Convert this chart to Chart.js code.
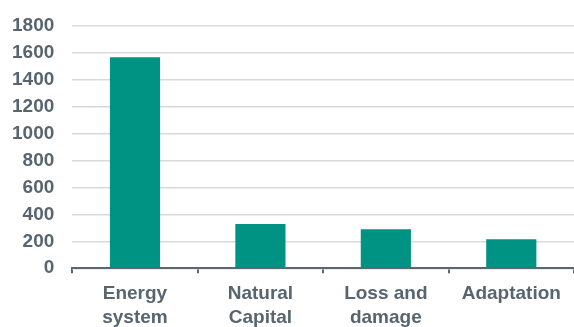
<!DOCTYPE html>
<html>
<head>
<meta charset="utf-8">
<script src="https://cdn.jsdelivr.net/npm/chart.js@4/dist/chart.umd.min.js"></script>
<style>
    html, body { margin: 0; padding: 0; background: #fff; overflow: hidden; }
    #wrap { width: 574px; height: 327px; }
</style>
</head>
<body>
<div id="wrap"><canvas id="barChart" width="574" height="327"></canvas></div>
<script>
// Chart data
const categories = [['Energy', 'system'], ['Natural', 'Capital'], ['Loss and', 'damage'], ['Adaptation']];
const values = [1565, 328, 290, 215];
const yTicks = [0, 200, 400, 600, 800, 1000, 1200, 1400, 1600, 1800];

const textColor = '#58656e';
const barColor = '#009282';
const fontFamily = '"Liberation Sans", Arial, sans-serif';

document.addEventListener('DOMContentLoaded', function() {
    const ctx = document.getElementById('barChart').getContext('2d');

    new Chart(ctx, {
        type: 'bar',
        data: {
            labels: categories,
            datasets: [{
                data: values,
                backgroundColor: barColor,
                borderWidth: 0,
                barPercentage: 0.4,
                categoryPercentage: 1
            }]
        },
        options: {
            responsive: false,
            animation: false,
            layout: {
                padding: { left: -6, top: 18, right: 0, bottom: -11 }
            },
            plugins: {
                legend: { display: false },
                tooltip: { enabled: false }
            },
            scales: {
                x: {
                    offset: true,
                    border: { display: true, color: '#5a6670', width: 2 },
                    grid: {
                        offset: true,
                        drawOnChartArea: false,
                        drawTicks: true,
                        tickLength: 5,
                        color: '#5a6670',
                        lineWidth: 2
                    },
                    ticks: {
                        color: textColor,
                        padding: 9,
                        maxRotation: 0,
                        autoSkip: false,
                        font: { family: fontFamily, size: 19, weight: 'bold', lineHeight: 1.23 }
                    }
                },
                y: {
                    min: yTicks[0],
                    max: yTicks[yTicks.length - 1],
                    border: { display: false },
                    grid: {
                        color: '#d9d9d9',
                        lineWidth: 1.5,
                        drawTicks: false
                    },
                    afterBuildTicks: function(axis) {
                        axis.ticks = yTicks.map(v => ({ value: v }));
                    },
                    ticks: {
                        color: textColor,
                        padding: 18,
                        callback: (value) => String(value),
                        font: { family: fontFamily, size: 19, weight: 'bold', lineHeight: 0.8 }
                    }
                }
            }
        }
    });
});
</script>
</body>
</html>
